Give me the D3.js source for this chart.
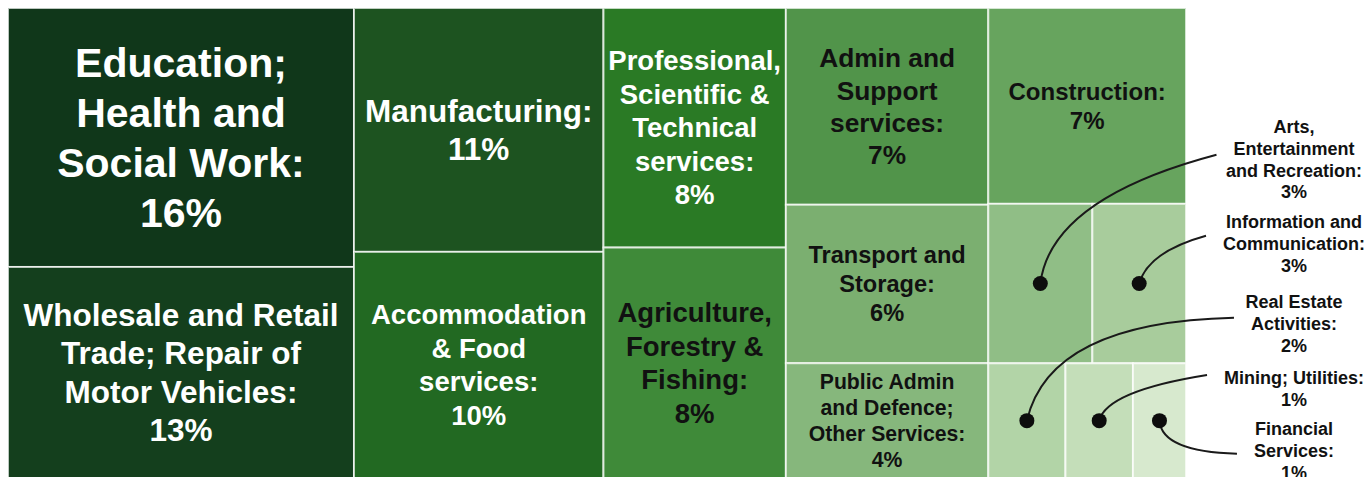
<!DOCTYPE html>
<html>
<head>
<meta charset="utf-8">
<script src="https://cdn.jsdelivr.net/npm/d3@7"></script>
<style>
  html, body { margin: 0; padding: 0; background: #fff; }
  svg { display: block; }
</style>
</head>
<body>
<svg id="chart" width="1372" height="477"></svg>
<script>
// Share of employment by industry sector, in percent
const sectors = [
  "Education;\nHealth and\nSocial Work",
  "Wholesale and Retail\nTrade; Repair of\nMotor Vehicles",
  "Manufacturing",
  "Accommodation\n& Food\nservices",
  "Professional,\nScientific &\nTechnical\nservices",
  "Agriculture,\nForestry &\nFishing",
  "Admin and\nSupport\nservices",
  "Transport and\nStorage",
  "Public Admin\nand Defence;\nOther Services",
  "Construction",
  "Arts,\nEntertainment\nand Recreation",
  "Information and\nCommunication",
  "Real Estate\nActivities",
  "Mining; Utilities",
  "Financial\nServices"
];
const shares = [16.2, 13.2, 11.0, 10.2, 7.9, 7.6, 7.2, 5.8, 4.2, 7.0, 3.0, 2.7, 1.6, 1.4, 1.1];

// Block structure of the map: column, then row inside that column
const column = [0, 0, 1, 1, 2, 2, 3, 3, 3, 4, 4, 4, 4, 4, 4];
const row    = [0, 1, 0, 1, 0, 1, 0, 1, 2, 0, 1, 1, 2, 2, 2];

// Styling
const fills = ["#10371a", "#143f1d", "#1d5320", "#226922", "#2a7a25", "#3f8a39",
               "#51944a", "#7baf70", "#86b77c", "#67a45e", "#90be86", "#a8cc9c",
               "#b2d4a7", "#c4deb9", "#d7e9ce"];
const fontSizes = [41, 31.5, 31.5, 27.5, 27.5, 27.5, 26.3, 23.6, 21.2, 24, 18, 18, 18, 18, 18];

// Small cells are labelled outside the map with a leader line
const callouts = [
  { i: 10, top: 127, lead: 1, dy: 6,  bend: [0.06, 0.34] },
  { i: 11, top: 222, lead: 1, dy: -8, bend: [0.14, 0.33] },
  { i: 12, top: 302, lead: 1, dy: -6, bend: [0.11, 0.04] },
  { i: 13, top: 378, lead: 0, dy: -3, bend: [0.07, 0.35] },
  { i: 14, top: 429, lead: 1, dy: 3,  bend: [0.03, 0.06] }
];

const FONT = "'Liberation Sans', Arial, Helvetica, sans-serif";
const origin = { x: 8, y: 8 };
const mapW = 1178, mapH = 470;
const calloutX = 1294;

const svg = d3.select("#chart");

// Nested hierarchy: columns -> rows -> sectors
const idx = d3.range(sectors.length);
const tree = {
  children: d3.groups(idx, i => column[i]).map(([, colIds]) => ({
    children: d3.groups(colIds, i => row[i]).map(([, rowIds]) => ({
      children: rowIds.map(i => ({ i }))
    }))
  }))
};

const root = d3.hierarchy(tree).sum(d => (d.i !== undefined ? shares[d.i] : 0));
d3.treemap()
  .tile(d3.treemapSliceDice)
  .size([mapW, mapH])
  .round(false)(root);

const leaves = root.leaves();
const pct = v => `${Math.round(v)}%`;
const textFill = c => (d3.lab(c).l < 50 ? "#ffffff" : "#111111");
const labelLines = i => {
  const parts = sectors[i].split("\n");
  parts[parts.length - 1] += ":";
  parts.push(pct(shares[i]));
  return parts;
};

const map = svg.append("g").attr("transform", `translate(${origin.x},${origin.y})`);

const cells = map.selectAll("g.cell")
  .data(leaves)
  .join("g")
  .attr("class", "cell");

cells.append("rect")
  .attr("x", d => d.x0)
  .attr("y", d => d.y0)
  .attr("width", d => d.x1 - d.x0)
  .attr("height", d => d.y1 - d.y0)
  .attr("fill", d => fills[d.data.i])
  .attr("stroke", "rgba(255,255,255,0.72)")
  .attr("stroke-width", 2);

const calloutSet = new Set(callouts.map(c => c.i));

// In-cell labels, centred in each cell
cells.filter(d => !calloutSet.has(d.data.i)).each(function (d) {
  const i = d.data.i;
  const lines = labelLines(i);
  const fs = fontSizes[i];
  const lh = fs * 1.22;
  const cx = (d.x0 + d.x1) / 2;
  const cy = (d.y0 + d.y1) / 2;
  const startY = cy - (lines.length - 1) * lh / 2;
  const t = d3.select(this).append("text")
    .attr("text-anchor", "middle")
    .attr("font-family", FONT)
    .attr("font-weight", "bold")
    .attr("font-size", fs)
    .attr("fill", textFill(fills[i]));
  lines.forEach((ln, k) => {
    t.append("tspan")
      .attr("x", cx)
      .attr("y", startY + k * lh)
      .attr("dy", "0.35em")
      .text(ln);
  });
});

// Outside labels with curved leader lines to a dot in each small cell
const notes = svg.append("g");
const byIndex = new Map(leaves.map(l => [l.data.i, l]));

callouts.forEach(c => {
  const leaf = byIndex.get(c.i);
  const lines = labelLines(c.i);
  const fs = fontSizes[c.i];
  const lh = fs * 1.205;
  const t = notes.append("text")
    .attr("text-anchor", "middle")
    .attr("font-family", FONT)
    .attr("font-weight", "bold")
    .attr("font-size", fs)
    .attr("fill", "#111111");
  const spans = lines.map((ln, k) =>
    t.append("tspan")
      .attr("x", calloutX)
      .attr("y", c.top + k * lh)
      .attr("dy", "0.35em")
      .text(ln)
  );

  const dot = {
    x: origin.x + (leaf.x0 + leaf.x1) / 2,
    y: origin.y + (leaf.y0 + leaf.y1) / 2
  };
  const leadW = spans[c.lead].node().getComputedTextLength();
  const start = { x: calloutX - leadW / 2 - 17, y: c.top + c.lead * lh + c.dy };
  const ctrl = {
    x: dot.x + c.bend[0] * (start.x - dot.x),
    y: start.y + c.bend[1] * (dot.y - start.y)
  };
  const path = d3.path();
  path.moveTo(start.x, start.y);
  path.quadraticCurveTo(ctrl.x, ctrl.y, dot.x, dot.y);

  notes.append("path")
    .attr("d", path.toString())
    .attr("fill", "none")
    .attr("stroke", "#1a1a1a")
    .attr("stroke-width", 2);

  notes.append("circle")
    .attr("cx", dot.x)
    .attr("cy", dot.y)
    .attr("r", 7.5)
    .attr("fill", "#0d0d0d");
});
</script>
</body>
</html>
